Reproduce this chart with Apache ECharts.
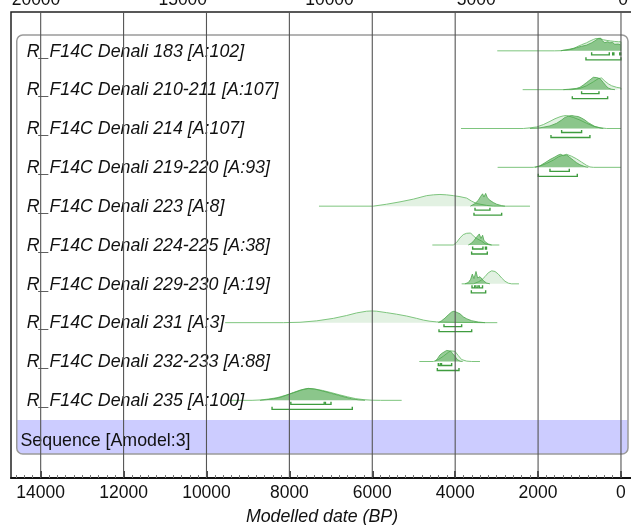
<!DOCTYPE html>
<html><head><meta charset="utf-8">
<script src="https://cdn.jsdelivr.net/npm/echarts@6/dist/echarts.min.js"></script>
<style>html,body{margin:0;padding:0;background:#fff}#c{width:631px;height:525px}</style>
</head><body><div id="c"></div>
<script>
// ---------- data ----------
const rowNames = [
  'R_F14C Denali 183 [A:102]',
  'R_F14C Denali 210-211 [A:107]',
  'R_F14C Denali 214 [A:107]',
  'R_F14C Denali 219-220 [A:93]',
  'R_F14C Denali 223 [A:8]',
  'R_F14C Denali 224-225 [A:38]',
  'R_F14C Denali 229-230 [A:19]',
  'R_F14C Denali 231 [A:3]',
  'R_F14C Denali 232-233 [A:88]',
  'R_F14C Denali 235 [A:100]'
];
const sequenceName = 'Sequence [Amodel:3]';

// extent of the thin likelihood line for each row (years BP)
const lineRanges = [[2985,0],[2372,0],[3860,0],[2976,0],[7286,2195],[4551,2935],[3844,2461],[9550,2984],[4865,3402],[9500,5291]];

// unmodelled (light) and modelled (dark) distributions: [year BP, relative height %]
const light183 = [[1600,0],[1470,1],[1300,5],[1150,15],[1070,30],[950,47],[829,62],[750,75],[668,87],[600,95],[560,97],[500,93],[420,85],[340,80],[250,76],[150,72],[60,70],[0,70]];
const dark183  = [[1450,0],[1390,5],[1250,12],[1070,25],[950,35],[829,44],[708,62],[628,77],[580,88],[547,95],[520,100],[490,97],[460,80],[426,70],[390,62],[346,56],[320,70],[300,75],[270,62],[225,56],[200,64],[185,62],[150,50],[105,44],[70,52],[40,58],[24,56],[10,46],[0,44]];

const light210 = [[1182,0],[990,10],[829,30],[668,60],[547,85],[467,90],[386,65],[306,45],[225,30],[105,18],[0,12]];
const dark210  = [[1391,0],[1270,3],[1070,10],[990,18],[910,35],[829,55],[749,75],[708,88],[668,95],[628,100],[587,93],[547,97],[507,85],[426,55],[362,30],[306,12],[225,3],[145,0]];

const light214 = [[2356,0],[2195,5],[2034,12],[1874,30],[1713,55],[1592,75],[1472,90],[1391,97],[1311,100],[1150,85],[990,65],[829,40],[668,18],[507,6],[346,0]];
const dark214  = [[2195,0],[1954,5],[1713,20],[1552,40],[1432,65],[1351,85],[1270,95],[1231,90],[1190,100],[1110,95],[1030,92],[950,80],[869,65],[789,45],[708,30],[628,15],[507,5],[426,0]];

const light219 = [[2115,0],[1954,10],[1794,30],[1633,55],[1512,80],[1432,90],[1311,100],[1190,85],[1070,65],[950,40],[829,15],[749,3],[668,0]];
const dark219  = [[2074,0],[1954,12],[1834,35],[1713,60],[1592,80],[1512,95],[1456,100],[1391,90],[1311,95],[1231,75],[1150,55],[1070,35],[990,20],[869,5],[789,0]];

const light223 = [[5975,0],[5653,15],[5332,33],[5010,54],[4688,81],[4527,87],[4367,90],[4206,87],[4045,81],[3884,73],[3723,62],[3600,38],[3480,20],[3241,6],[3080,0]];
const dark223  = [[3634,0],[3522,20],[3442,45],[3386,75],[3338,95],[3306,70],[3265,98],[3225,65],[3161,45],[3080,28],[2999,15],[2879,4],[2799,0]];

const light224 = [[4045,0],[3964,20],[3884,55],[3804,80],[3723,90],[3683,85],[3626,92],[3562,70],[3482,50],[3362,30],[3281,10],[3161,0]];
const dark224  = [[3683,0],[3602,15],[3546,35],[3498,55],[3466,40],[3418,85],[3378,50],[3338,75],[3306,35],[3257,20],[3201,8],[3120,0]];

const light229 = [[3562,0],[3442,15],[3362,30],[3281,55],[3201,85],[3120,100],[3040,95],[2960,75],[2879,45],[2799,20],[2718,5],[2637,0]];
const dark229  = [[3764,0],[3683,10],[3626,35],[3586,75],[3546,40],[3498,95],[3458,45],[3402,55],[3362,40],[3306,20],[3241,6],[3161,0]];

const light231 = [[8147,0],[7744,3],[7342,14],[6940,33],[6618,55],[6377,75],[6136,88],[6015,90],[5895,88],[5653,77],[5412,65],[5171,51],[4930,33],[4769,20],[4608,11],[4447,6],[4287,4],[3884,2],[3562,1],[3321,0]];
const dark231  = [[4407,0],[4326,15],[4246,35],[4166,60],[4085,82],[4029,88],[4005,92],[3949,78],[3884,68],[3804,45],[3723,30],[3602,15],[3442,5],[3281,0]];

const light232 = [[4527,0],[4407,15],[4287,40],[4166,70],[4109,82],[4061,90],[4005,78],[3924,45],[3844,15],[3723,3],[3602,0]];
const dark232  = [[4487,0],[4431,20],[4367,50],[4310,65],[4262,75],[4206,85],[4166,70],[4109,80],[4061,60],[4005,40],[3949,15],[3884,3],[3820,0]];

const light235 = [[8900,0],[8700,3],[8500,10],[8300,20],[8100,38],[7900,58],[7700,80],[7550,90],[7400,88],[7200,76],[7000,60],[6800,43],[6600,27],[6400,13],[6200,5],[6000,1],[5800,0]];
const dark235  = [[8709,0],[8548,5],[8388,12],[8227,22],[8066,40],[7905,60],[7744,78],[7624,88],[7543,92],[7423,88],[7302,80],[7141,67],[6980,53],[6819,39],[6659,25],[6498,12],[6337,4],[6176,0]];

const lightRows = [light183, light210, light214, light219, light223, light224, light229, light231, light232, light235];
const darkRows  = [dark183, dark210, dark214, dark219, dark223, dark224, dark229, dark231, dark232, dark235];

// highest posterior density ranges: [row, from, to]
const range68 = [[0,708,282],[0,200,172],[0,30,6],[1,950,531],[2,1432,950],[3,1713,1247],[4,3522,3161],[5,3579,3330],[5,3270,3245],
  [6,3594,3530],[6,3500,3450],[6,3420,3340],[7,4270,3844],[8,4407,4360],[8,4330,4085],[9,7965,7160],[9,7130,6996]];
const range95 = [[0,845,0],[1,1174,322],[2,1689,749],[3,1995,1054],[4,3546,2879],[5,3603,3225],[6,3610,3265],[7,4390,3602],[8,4431,3908],[9,8418,6482]];

const bottomTicks = [0,2000,4000,6000,8000,10000,12000,14000];
const bottomMinorTicks = [];
for (let v = 0; v <= 14600; v += 200) bottomMinorTicks.push(v);
const topTicks = [0,5000,10000,15000,20000];

// ---------- chart ----------
const FONT = '"Liberation Sans", Arial, sans-serif';
const H = 0.335; // row units for 100% height
const toPts = (arr, row) => arr.map(p => [p[0], row - p[1] / 100 * H]);
const plain = v => String(v);

const series = [];
lightRows.forEach((arr, i) => {
  const full = [[lineRanges[i][0], 0]].concat(arr, [[lineRanges[i][1], 0]]);
  series.push({
    type: 'line', xAxisIndex: 0, yAxisIndex: 0, data: toPts(full, i), symbol: 'none', silent: true,
    lineStyle: { color: '#7ec57e', width: 1 }, areaStyle: { color: 'rgba(150,205,150,0.4)', origin: i }, z: 2
  });
});
darkRows.forEach((arr, i) => {
  series.push({
    type: 'line', xAxisIndex: 0, yAxisIndex: 0, data: toPts(arr, i), symbol: 'none', silent: true,
    lineStyle: { color: '#4da64d', width: 0.8 }, areaStyle: { color: 'rgba(60,160,60,0.75)', origin: i }, z: 3
  });
});

const bracketData = range68.map(r => [r[1], r[2], r[0], 68]).concat(range95.map(r => [r[1], r[2], r[0], 95]));
series.push({
  type: 'custom', xAxisIndex: 0, yAxisIndex: 0, data: bracketData, encode: { x: [0, 1], y: 2 }, silent: true, z: 4,
  renderItem: (params, api) => {
    const a = api.coord([api.value(0), api.value(2)]);
    const b = api.coord([api.value(1), api.value(2)]);
    const y = a[1] + (api.value(3) === 68 ? 4 : 9);
    return { type: 'polyline', shape: { points: [[a[0], y - 2.5], [a[0], y], [b[0], y], [b[0], y - 2.5]] },
      style: { stroke: '#3f9c3f', lineWidth: 1.4, fill: null } };
  }
});

const labelData = rowNames.map((n, i) => [0, i]).concat([[0, 10]]);
series.push({
  type: 'custom', xAxisIndex: 0, yAxisIndex: 0, data: labelData, silent: true, z: 5,
  renderItem: (params, api) => {
    const idx = params.dataIndex;
    const p = api.coord([0, api.value(1)]);
    const isSeq = idx >= rowNames.length;
    return { type: 'text', x: isSeq ? 20.5 : 26.7, y: p[1] + (isSeq ? 1.8 : 0.8),
      style: { text: isSeq ? sequenceName : rowNames[idx], fill: '#111', align: 'left', verticalAlign: 'middle',
        font: (isSeq ? '' : 'italic ') + '17.8px ' + FONT } };
  }
});

series.push({
  type: 'custom', xAxisIndex: 0, yAxisIndex: 0, data: bottomTicks.map(v => [v, 0]), silent: true, z: 10,
  renderItem: (params, api) => {
    const a = api.coord([api.value(0), -1]);
    const b = api.coord([api.value(0), 11]);
    return { type: 'line', shape: { x1: a[0], y1: a[1], x2: b[0], y2: b[1] }, style: { stroke: '#555', lineWidth: 1.1 } };
  }
});

const option = {
  animation: false,
  backgroundColor: '#fff',
  grid: { left: 11, right: -2, top: 12, bottom: 47, containLabel: false, outerBoundsMode: 'none',
    show: true, borderColor: '#222', borderWidth: 1.5, backgroundColor: 'transparent' },
  graphic: [
    { type: 'rect', z: 0, shape: { x: 17, y: 420, width: 611, height: 34, r: [0, 0, 6, 6] }, style: { fill: '#ccccff' } },
    { type: 'rect', z: 1, shape: { x: 16.75, y: 35, width: 611.25, height: 419, r: 6 }, style: { fill: 'none', stroke: '#9a9a9a', lineWidth: 1.5 } }
  ],
  xAxis: [
    { type: 'value', position: 'bottom', inverse: true, min: -290, max: 14716,
      axisLine: { show: true, onZero: false, lineStyle: { color: '#111', width: 2 } },
      axisTick: { show: true, inside: true, length: 3, customValues: bottomMinorTicks, lineStyle: { color: '#777', width: 1 } },
      axisLabel: { show: false }, splitLine: { show: false } },
    { type: 'value', position: 'bottom', inverse: true, min: -290, max: 14716,
      axisLine: { show: false, onZero: false },
      axisTick: { show: true, inside: true, length: 7, customValues: bottomTicks, lineStyle: { color: '#111', width: 1.5 } },
      axisLabel: { show: true, customValues: bottomTicks, formatter: plain, margin: 6, color: '#111', fontSize: 17.5, fontFamily: FONT },
      splitLine: { show: false },
      name: 'Modelled date (BP)', nameLocation: 'middle', nameGap: 30,
      nameTextStyle: { color: '#111', fontSize: 17.8, fontStyle: 'italic', fontFamily: FONT } },
    { type: 'value', position: 'top', inverse: true, min: -341, max: 20852,
      axisLine: { show: false, onZero: false }, axisTick: { show: false },
      axisLabel: { show: true, customValues: topTicks, formatter: plain, margin: 3, color: '#111', fontSize: 17.5, fontFamily: FONT },
      splitLine: { show: false } }
  ],
  yAxis: [{ type: 'value', inverse: true, min: -1, max: 11, show: false, splitLine: { show: false } }],
  series: series
};
const chart = echarts.init(document.getElementById('c'), null, { renderer: 'canvas' });
chart.setOption(option);
</script></body></html>
